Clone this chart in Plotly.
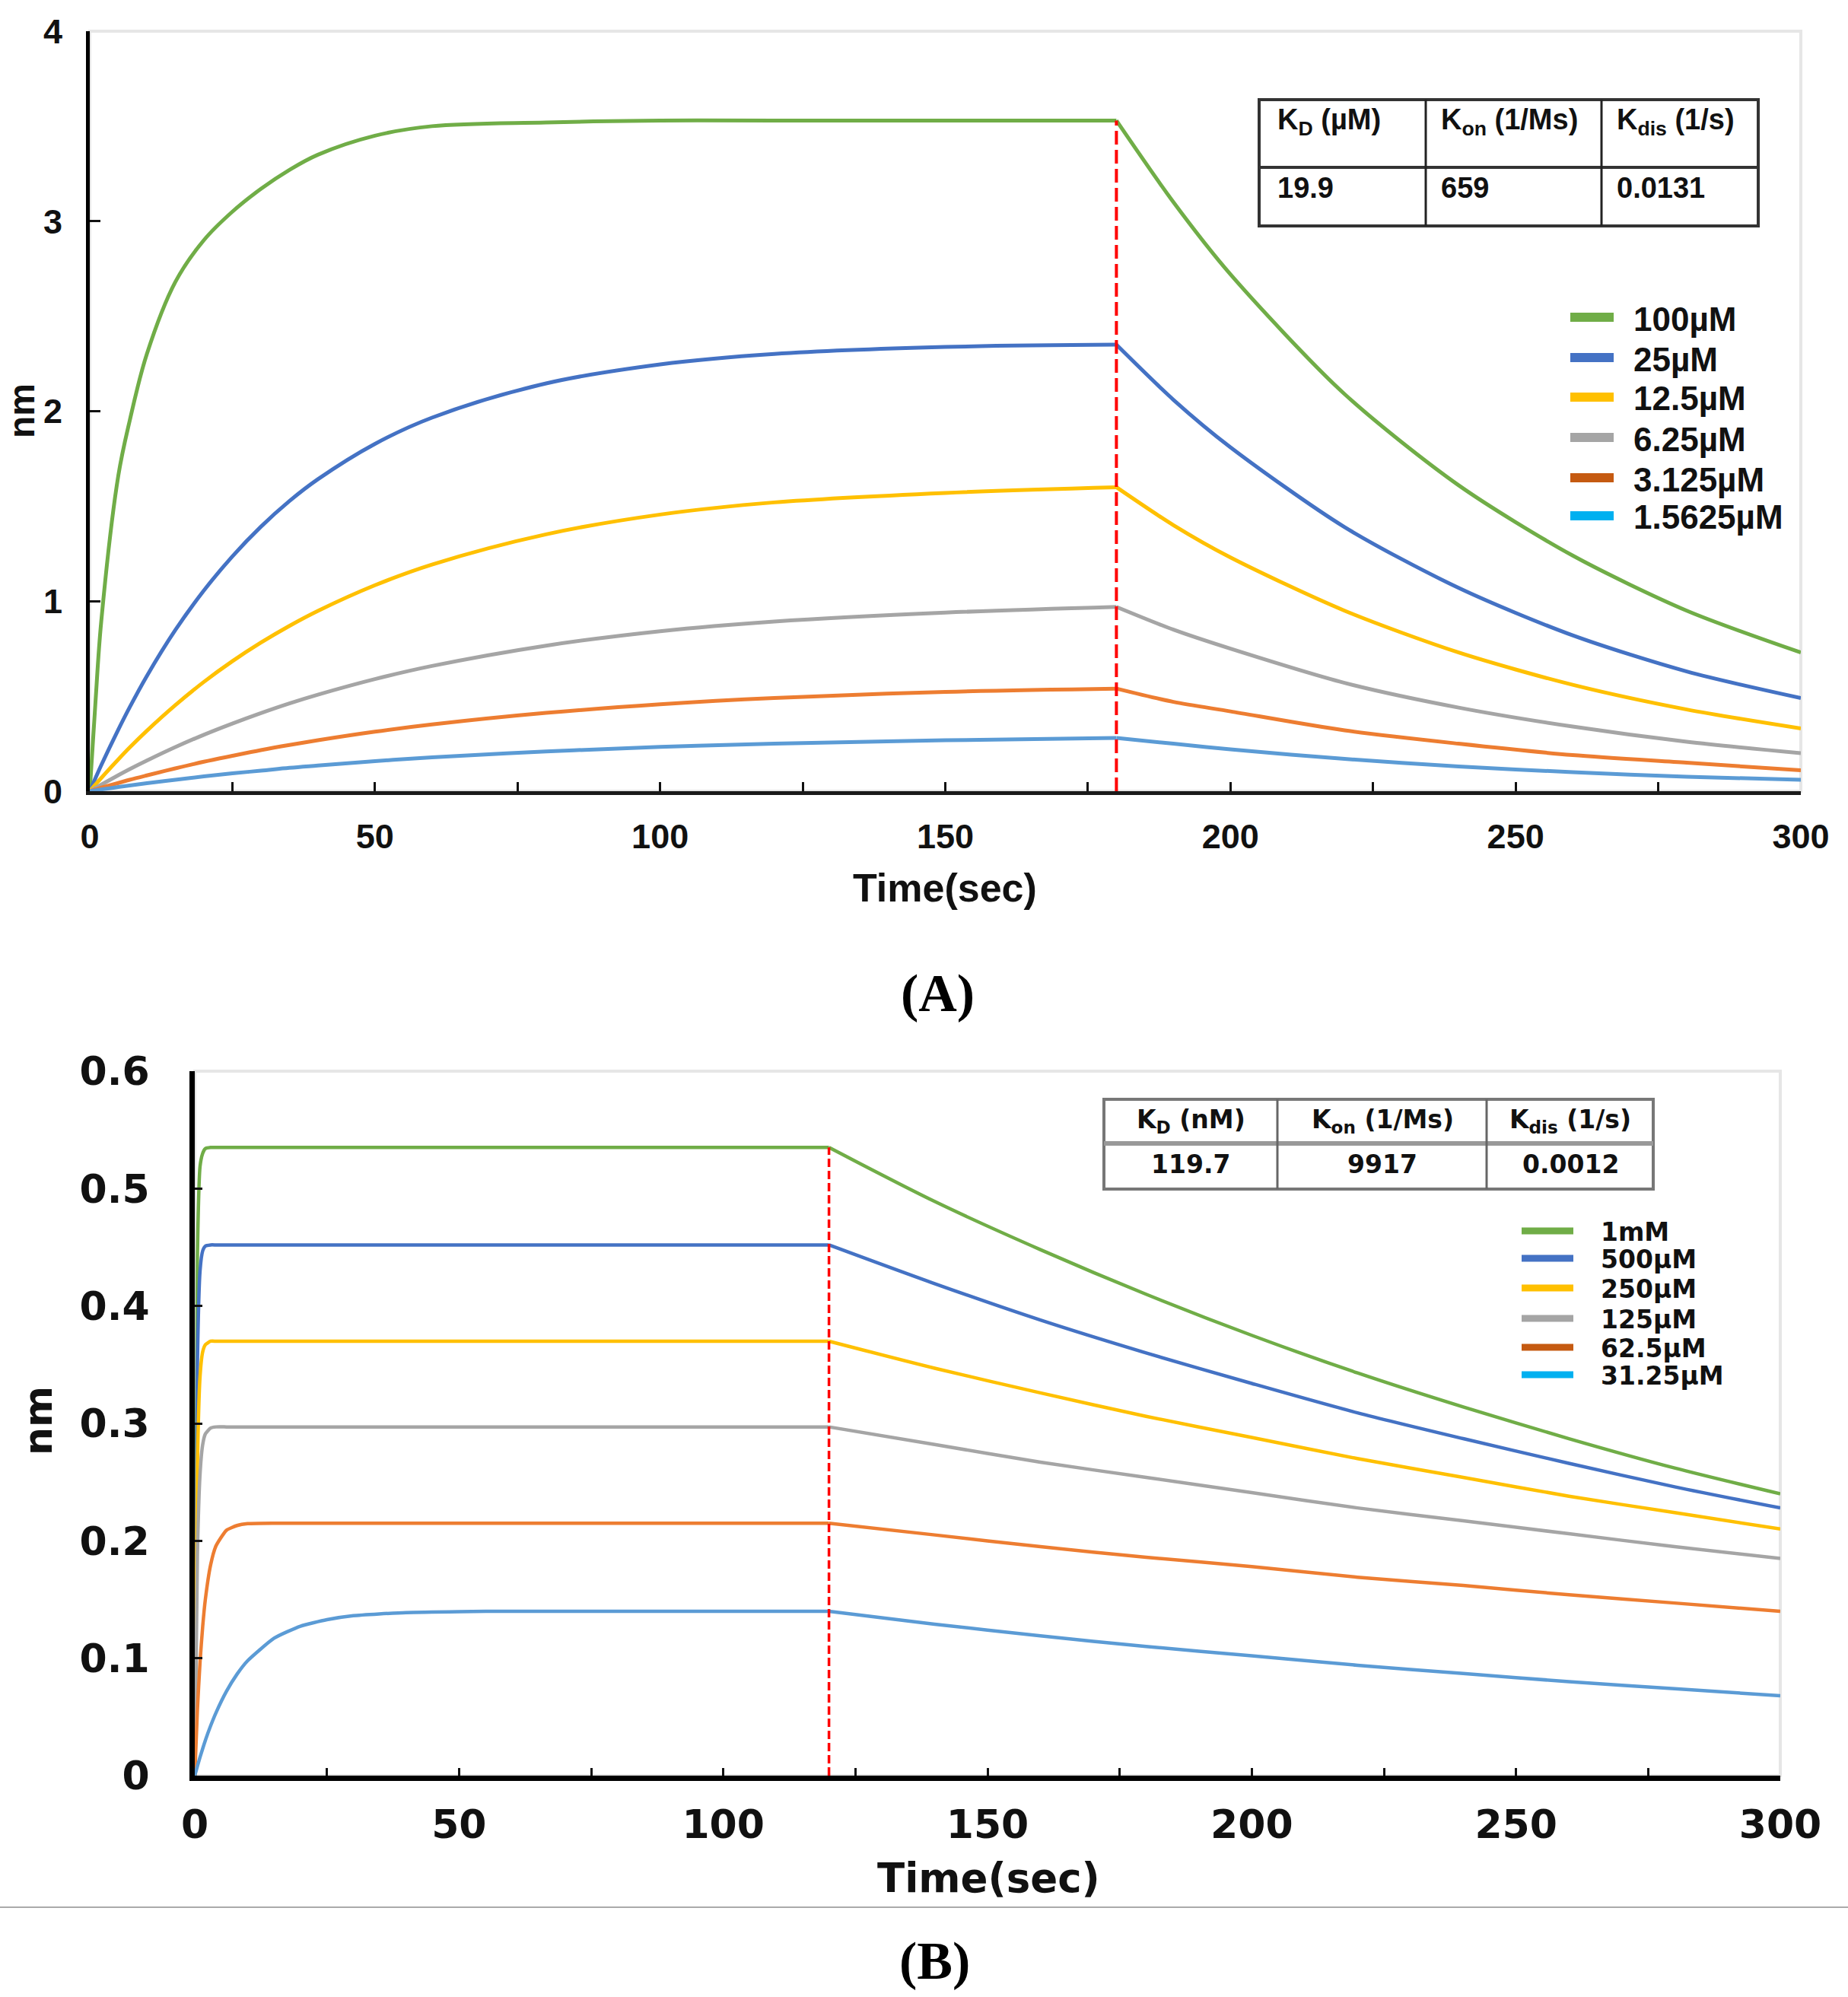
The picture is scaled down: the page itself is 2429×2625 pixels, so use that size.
import plotly.graph_objects as go

W, H = 2429, 2625

# ---------------- Panel A data ----------------
A_labels = ["100µM", "25µM", "12.5µM", "6.25µM", "3.125µM", "1.5625µM"]
A_t_assoc = [0, 1, 2, 5, 7, 10, 15, 20, 25, 30, 35, 40, 50, 60, 80, 100, 120, 150, 180]
A_green_a = [0, 0.47, 0.89, 1.66, 1.95, 2.30, 2.68, 2.90, 3.05, 3.17, 3.27, 3.35, 3.45, 3.50, 3.52, 3.53, 3.53, 3.53, 3.53]
A_blue_a = [0, 0.069, 0.136, 0.324, 0.442, 0.606, 0.848, 1.056, 1.236, 1.392, 1.527, 1.642, 1.828, 1.966, 2.146, 2.246, 2.301, 2.338, 2.35]
A_yellow_a = [0, 0.035, 0.069, 0.167, 0.230, 0.318, 0.453, 0.575, 0.684, 0.782, 0.870, 0.949, 1.084, 1.193, 1.352, 1.456, 1.52, 1.57, 1.60]
A_gray_a = [0, 0.017, 0.034, 0.084, 0.116, 0.161, 0.232, 0.297, 0.356, 0.411, 0.462, 0.508, 0.590, 0.659, 0.766, 0.842, 0.893, 0.940, 0.97]
A_orange_a = [0, 0.009, 0.018, 0.043, 0.060, 0.083, 0.120, 0.155, 0.186, 0.216, 0.243, 0.268, 0.313, 0.351, 0.412, 0.457, 0.490, 0.523, 0.54]
A_lblue_a = [0, 0.0045, 0.009, 0.022, 0.030, 0.042, 0.060, 0.078, 0.094, 0.108, 0.123, 0.135, 0.158, 0.178, 0.209, 0.233, 0.250, 0.268, 0.28]

A_t_diss = [180, 190, 200, 220, 240, 260, 280, 300]
A_green_d = [3.53, 3.10, 2.72, 2.09, 1.61, 1.24, 0.95, 0.73]
A_blue_d = [2.35, 2.06, 1.81, 1.39, 1.07, 0.82, 0.63, 0.49]
A_yellow_d = [1.60, 1.40, 1.23, 0.95, 0.73, 0.56, 0.43, 0.33]
A_gray_d = [0.97, 0.85, 0.75, 0.57, 0.44, 0.34, 0.26, 0.20]
A_orange_d = [0.54, 0.47, 0.42, 0.32, 0.25, 0.19, 0.15, 0.11]
A_lblue_d = [0.28, 0.25, 0.22, 0.17, 0.13, 0.10, 0.076, 0.06]
A_switch = 180
A_table_head = ["K<sub>D</sub> (µM)", "K<sub>on</sub> (1/Ms)", "K<sub>dis</sub> (1/s)"]
A_table_vals = ["19.9", "659", "0.0131"]

# ---------------- Panel B data ----------------
B_labels = ["1mM", "500µM", "250µM", "125µM", "62.5µM", "31.25µM"]
B_t_assoc = [0, 0.5, 1, 1.5, 2, 3, 4, 6, 8, 10, 15, 20, 25, 30, 40, 50, 60, 80, 100, 120]
B_green_a = [0, 0.442, 0.519, 0.530, 0.534, 0.535, 0.535, 0.535, 0.535, 0.535, 0.535, 0.535, 0.535, 0.535, 0.535, 0.535, 0.535, 0.535, 0.535, 0.535]
B_blue_a = [0, 0.351, 0.430, 0.447, 0.451, 0.452, 0.452, 0.452, 0.452, 0.452, 0.452, 0.452, 0.452, 0.452, 0.452, 0.452, 0.452, 0.452, 0.452, 0.452]
B_yellow_a = [0, 0.264, 0.340, 0.361, 0.367, 0.370, 0.370, 0.370, 0.370, 0.370, 0.370, 0.370, 0.370, 0.370, 0.370, 0.370, 0.370, 0.370, 0.370, 0.370]
B_gray_a = [0, 0.188, 0.257, 0.282, 0.291, 0.296, 0.297, 0.297, 0.297, 0.297, 0.297, 0.297, 0.297, 0.297, 0.297, 0.297, 0.297, 0.297, 0.297, 0.297]
B_orange_a = [0, 0.056, 0.097, 0.127, 0.150, 0.1795, 0.1955, 0.209, 0.213, 0.2146, 0.215, 0.215, 0.215, 0.215, 0.215, 0.215, 0.215, 0.215, 0.215, 0.215]
B_lblue_a = [0, 0.008, 0.0158, 0.023, 0.030, 0.0424, 0.0534, 0.0718, 0.0864, 0.0978, 0.117, 0.1273, 0.1328, 0.1362, 0.1389, 0.1397, 0.14, 0.14, 0.14, 0.14]

B_t_diss = [120, 140, 160, 180, 200, 220, 240, 260, 280, 300]
B_green_d = [0.535, 0.489, 0.448, 0.410, 0.375, 0.343, 0.314, 0.287, 0.262, 0.240]
B_blue_d = [0.452, 0.419, 0.388, 0.360, 0.334, 0.309, 0.287, 0.266, 0.246, 0.228]
B_yellow_d = [0.370, 0.347, 0.326, 0.306, 0.288, 0.270, 0.254, 0.238, 0.224, 0.210]
B_gray_d = [0.297, 0.282, 0.267, 0.254, 0.241, 0.228, 0.217, 0.206, 0.195, 0.185]
B_orange_d = [0.215, 0.205, 0.195, 0.186, 0.178, 0.169, 0.162, 0.154, 0.147, 0.140]
B_lblue_d = [0.140, 0.129, 0.119, 0.110, 0.102, 0.094, 0.087, 0.080, 0.074, 0.068]
B_switch = 120
B_table_head = ["K<sub>D</sub> (nM)", "K<sub>on</sub> (1/Ms)", "K<sub>dis</sub> (1/s)"]
B_table_vals = ["119.7", "9917", "0.0012"]

x_ticks = [0, 50, 100, 150, 200, 250, 300]

line_colors = ["#70AD47", "#4472C4", "#FFC000", "#A5A5A5", "#ED7D31", "#5B9BD5"]
legend_colors = ["#70AD47", "#4472C4", "#FFC000", "#A5A5A5", "#C55A11", "#00B0F0"]

A_assoc = [A_green_a, A_blue_a, A_yellow_a, A_gray_a, A_orange_a, A_lblue_a]
A_diss = [A_green_d, A_blue_d, A_yellow_d, A_gray_d, A_orange_d, A_lblue_d]
B_assoc = [B_green_a, B_blue_a, B_yellow_a, B_gray_a, B_orange_a, B_lblue_a]
B_diss = [B_green_d, B_blue_d, B_yellow_d, B_gray_d, B_orange_d, B_lblue_d]

def PX(px):
    return px / W

def PY(py):
    return 1 - py / H

fig = go.Figure()

for i in range(6):
    fig.add_trace(go.Scatter(x=A_t_assoc, y=A_assoc[i], mode="lines", name=A_labels[i],
                             line=dict(color=line_colors[i], width=5, shape="spline", smoothing=1.0),
                             showlegend=False, xaxis="x", yaxis="y"))
    fig.add_trace(go.Scatter(x=A_t_diss, y=A_diss[i], mode="lines", name=A_labels[i],
                             line=dict(color=line_colors[i], width=5, shape="spline", smoothing=0.8),
                             showlegend=False, xaxis="x", yaxis="y"))
for i in range(6):
    fig.add_trace(go.Scatter(x=B_t_assoc, y=B_assoc[i], mode="lines", name=B_labels[i],
                             line=dict(color=line_colors[i], width=4.5, shape="spline", smoothing=0.5),
                             showlegend=False, xaxis="x2", yaxis="y2"))
    fig.add_trace(go.Scatter(x=B_t_diss, y=B_diss[i], mode="lines", name=B_labels[i],
                             line=dict(color=line_colors[i], width=4.5, shape="spline", smoothing=0.8),
                             showlegend=False, xaxis="x2", yaxis="y2"))

FA = "Liberation Sans"
FB = "DejaVu Sans"

def axis(domain, rng, dtick, minor_dtick, anchor, font, size, lw, tlen, standoff, lcolor):
    d = dict(domain=domain, range=rng, anchor=anchor, showgrid=False, zeroline=False,
             showline=True, linecolor=lcolor, linewidth=lw, ticks="inside", ticklen=tlen,
             tickwidth=3, tickcolor="#111", tick0=0, dtick=dtick, automargin=False,
             tickfont=dict(family=font, size=size, color="#111", weight="bold"),
             ticklabelstandoff=standoff, fixedrange=True)
    if minor_dtick:
        d["minor"] = dict(dtick=minor_dtick, ticks="inside", ticklen=tlen, tickwidth=3, tickcolor="#111", showgrid=False)
    return d

fig.update_layout(
    template="none",
    width=W, height=H, margin=dict(l=0, r=0, t=0, b=0, pad=0, autoexpand=False),
    paper_bgcolor="white", plot_bgcolor="white", showlegend=False,
    xaxis=axis([PX(118), PX(2367)], [0, 300], 50, 25, "y", FA, 45, 5, 12, 16, "#1a1a1a"),
    yaxis=axis([PY(1040), PY(41)], [0, 4], 1, None, "x", FA, 45, 5, 14, 22, "#000"),
    xaxis2=axis([PX(256), PX(2340)], [0, 300], 50, 25, "y2", FB, 52, 7, 10, 13, "#000"),
    yaxis2=axis([PY(2334), PY(1408)], [0, 0.6], 0.1, None, "x2", FB, 52, 7, 10, 42, "#000"),
)
fig.update_layout(xaxis=dict(tickvals=x_ticks), xaxis2=dict(tickvals=x_ticks))

shapes = []
# light gray plot frames
for xr, yr in (("x domain", "y domain"), ("x2 domain", "y2 domain")):
    shapes.append(dict(type="rect", xref=xr, yref=yr, x0=0, x1=1, y0=0, y1=1,
                       line=dict(color="#e6e6e6", width=4), layer="below"))
# red dashed switch lines
shapes.append(dict(type="line", xref="x", yref="y", x0=A_switch, x1=A_switch, y0=0, y1=A_green_d[0],
                   line=dict(color="#FF0000", width=4, dash="18px,7px")))
shapes.append(dict(type="line", xref="x2", yref="y2", x0=B_switch, x1=B_switch, y0=0, y1=B_green_d[0],
                   line=dict(color="#FF0000", width=3.5, dash="11px,5px")))
# separator line
shapes.append(dict(type="line", xref="paper", yref="paper", x0=0, x1=1, y0=PY(2507), y1=PY(2507),
                   line=dict(color="#aaaaaa", width=2)))

ann = []

def text(x, y, s, family, size, xanchor="center", angle=0, color="#111", bold=True):
    ann.append(dict(x=PX(x), y=PY(y), xref="paper", yref="paper", text=s, showarrow=False,
                    xanchor=xanchor, yanchor="middle", textangle=angle,
                    font=dict(family=family, size=size, color=color, weight="bold" if bold else "normal")))

# Table A
tA = dict(x0=1655, x1=2311, y0=131, y1=297, ym=220, xs=[1874, 2105])
shapes.append(dict(type="rect", xref="paper", yref="paper", x0=PX(tA["x0"]), x1=PX(tA["x1"]),
                   y0=PY(tA["y1"]), y1=PY(tA["y0"]), line=dict(color="#333", width=4), fillcolor="white"))
shapes.append(dict(type="line", xref="paper", yref="paper", x0=PX(tA["x0"]), x1=PX(tA["x1"]),
                   y0=PY(tA["ym"]), y1=PY(tA["ym"]), line=dict(color="#333", width=4)))
for xv in tA["xs"]:
    shapes.append(dict(type="line", xref="paper", yref="paper", x0=PX(xv), x1=PX(xv),
                       y0=PY(tA["y0"]), y1=PY(tA["y1"]), line=dict(color="#222", width=3)))
for j, xl in enumerate([1677, 1892, 2123]):
    text(xl, 160, A_table_head[j], FA, 38, xanchor="left")
    text(xl, 247, A_table_vals[j], FA, 38, xanchor="left")

# Table B
tB = dict(x0=1451, x1=2173, y0=1445, y1=1563, ym=1503, xs=[1679, 1954])
shapes.append(dict(type="rect", xref="paper", yref="paper", x0=PX(tB["x0"]), x1=PX(tB["x1"]),
                   y0=PY(tB["y1"]), y1=PY(tB["y0"]), line=dict(color="#777", width=4), fillcolor="white"))
shapes.append(dict(type="line", xref="paper", yref="paper", x0=PX(tB["x0"]), x1=PX(tB["x1"]),
                   y0=PY(tB["ym"]), y1=PY(tB["ym"]), line=dict(color="#999", width=6)))
for xv in tB["xs"]:
    shapes.append(dict(type="line", xref="paper", yref="paper", x0=PX(xv), x1=PX(xv),
                       y0=PY(tB["y0"]), y1=PY(tB["y1"]), line=dict(color="#666", width=3)))
for j, xc in enumerate([1565, 1817, 2064]):
    text(xc, 1473, B_table_head[j], FB, 33)
    text(xc, 1530, B_table_vals[j], FB, 33)

# Legend A
for i, yc in enumerate([417, 470, 522, 575, 628, 678]):
    shapes.append(dict(type="line", xref="paper", yref="paper", x0=PX(2064), x1=PX(2121),
                       y0=PY(yc), y1=PY(yc), line=dict(color=legend_colors[i], width=12)))
    text(2145, yc + 2, A_labels[i], FA, 44, xanchor="left")
# Legend B
for i, yc in enumerate([1618, 1654, 1693, 1733, 1771, 1807]):
    shapes.append(dict(type="line", xref="paper", yref="paper", x0=PX(2000), x1=PX(2068),
                       y0=PY(yc), y1=PY(yc), line=dict(color=legend_colors[i], width=9)))
    text(2102, yc + 1, B_labels[i], FB, 33, xanchor="left")

# axis titles
text(1242, 1167, "Time(sec)", FA, 52)
text(28, 540, "nm", FA, 48, angle=-90)
text(1299, 2468, "Time(sec)", FB, 53)
text(50, 1868, "nm", FB, 52, angle=-90)

# panel labels
text(1232, 1306, "(A)", "Liberation Serif", 70, color="#000")
text(1228, 2577, "(B)", "Liberation Serif", 70, color="#000")

fig.update_layout(shapes=shapes, annotations=ann)
fig.write_html("out.html", config={"displayModeBar": False},
               post_script="document.documentElement.style.margin='0';document.body.style.margin='0';document.body.style.padding='0';document.body.style.overflow='hidden';")
